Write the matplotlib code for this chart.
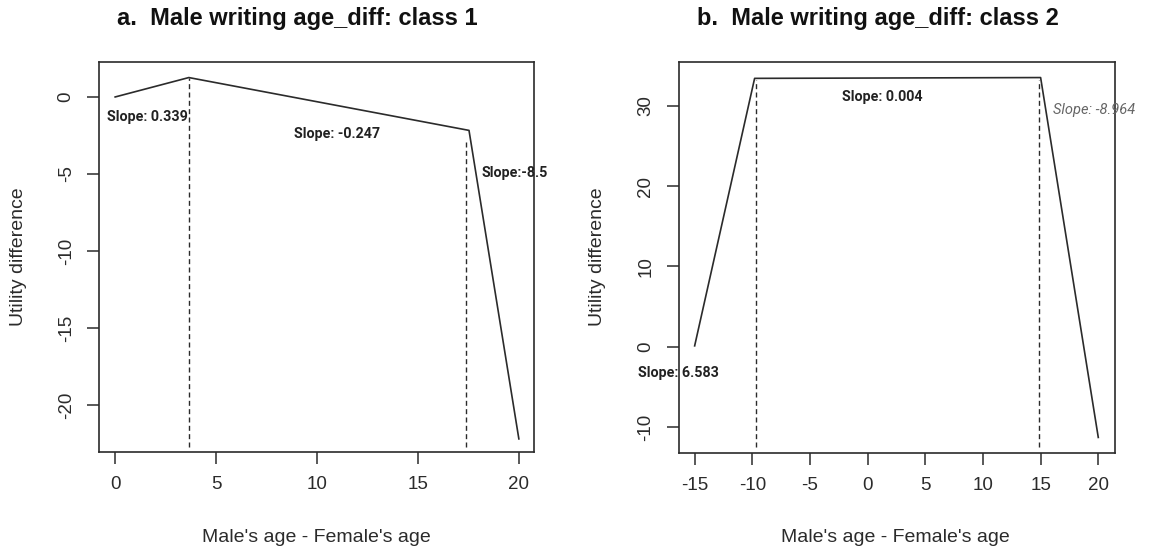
import matplotlib

matplotlib.use('Agg')
import matplotlib.pyplot as plt

# --- piecewise utility curves (knot positions and values) ---
a_x = [0, 3.65, 17.53, 20]
a_y = [0, 1.26, -2.17, -22.2]
a_knots = [3.65, 17.4]
a_knot_tops = [1.26, -2.7]
a_knot_bottom = -22.75
a_xticks = [0, 5, 10, 15, 20]
a_yticks = [0, -5, -10, -15, -20]

b_x = [-15, -9.8, 15.0, 20]
b_y = [0.1, 33.4, 33.5, -11.3]
b_knots = [-9.67, 14.9]
b_knot_tops = [33.2, 33.2]
b_knot_bottom = -12.5
b_xticks = [-15, -10, -5, 0, 5, 10, 15, 20]
b_yticks = [30, 20, 10, 0, -10]

a_title = 'a.  Male writing age_diff: class 1'
b_title = 'b.  Male writing age_diff: class 2'
x_label = "Male's age - Female's age"
y_label = 'Utility difference'

W, H = 1149, 552
fig = plt.figure(figsize=(W / 100, H / 100), dpi=100)
fig.patch.set_facecolor('white')

INK = '#2b2b2b'
plt.rcParams['font.family'] = ['Liberation Sans', 'DejaVu Sans']
plt.rcParams['axes.unicode_minus'] = False


def fpos(px, py):
    """pixel position (from top-left) -> figure fraction"""
    return px / W, 1 - py / H


def make_axes(left, top, right, bottom):
    x0, y1 = fpos(left, top)
    x1, y0 = fpos(right, bottom)
    return fig.add_axes([x0, y0, x1 - x0, y1 - y0])


def style_axes(ax, xticks, yticks, xlim, ylim):
    ax.set_xlim(*xlim)
    ax.set_ylim(*ylim)
    ax.set_xticks(xticks)
    ax.set_yticks(yticks)
    for s in ax.spines.values():
        s.set_color(INK)
        s.set_linewidth(1.2)
    ax.tick_params(direction='out', length=8.5, width=1.1, color=INK,
                   labelsize=13.5, labelcolor=INK)
    ax.tick_params(axis='x', pad=9)
    ax.tick_params(axis='y', pad=9, labelrotation=90)
    for lab in ax.get_yticklabels():
        lab.set_va('center')


def slope_text(ax, x, y, s, ha='left', italic=False):
    if italic:
        ax.text(x, y, s, ha=ha, va='center', fontsize=10.5, color='#666666',
                style='italic', family=['Roboto', 'DejaVu Sans'], clip_on=False)
    else:
        ax.text(x, y, s, ha=ha, va='center', fontsize=10.3, color='#222222',
                fontweight='semibold', family=['Roboto', 'DejaVu Sans'], clip_on=False)


# panel a
ax1 = make_axes(99, 62, 534, 452)
ax1.plot(a_x, a_y, color=INK, lw=1.2)
ax1.vlines(a_knots, a_knot_bottom, a_knot_tops, colors=INK, lw=1.0,
           linestyles=(0, (3.6, 2.4)))
style_axes(ax1, a_xticks, a_yticks, (-0.8, 20.75), (-23.05, 2.27))
slope_text(ax1, -0.39, -1.32, 'Slope: 0.339')
slope_text(ax1, 11.0, -2.4, 'Slope: -0.247', ha='center')
slope_text(ax1, 18.15, -4.93, 'Slope:-8.5')

# panel b
ax2 = make_axes(678.5, 62.3, 1115, 452.7)
ax2.plot(b_x, b_y, color=INK, lw=1.2)
ax2.vlines(b_knots, b_knot_bottom, b_knot_tops, colors=INK, lw=1.0,
           linestyles=(0, (3.6, 2.4)))
style_axes(ax2, b_xticks, b_yticks, (-16.4, 21.45), (-13.2, 35.4))
slope_text(ax2, 1.29, 31.1, 'Slope: 0.004', ha='center')
slope_text(ax2, 16.06, 29.45, 'Slope: -8.964', italic=True)
slope_text(ax2, -19.9, -3.26, 'Slope: 6.583')

# titles and axis labels
for cx, title in [(297.5, a_title), (878, b_title)]:
    fig.text(*fpos(cx, 18), title, ha='center', va='center', fontsize=17,
             fontweight='bold', color='#111111')
for cx in [316, 895]:
    fig.text(*fpos(cx, 537), x_label, ha='center', va='center', fontsize=14, color=INK)
for cx in [19, 597]:
    fig.text(*fpos(cx, 257), y_label, ha='center', va='center', fontsize=14,
             color=INK, rotation=90)

fig.savefig('out.png', dpi=100)
plt.close(fig)
